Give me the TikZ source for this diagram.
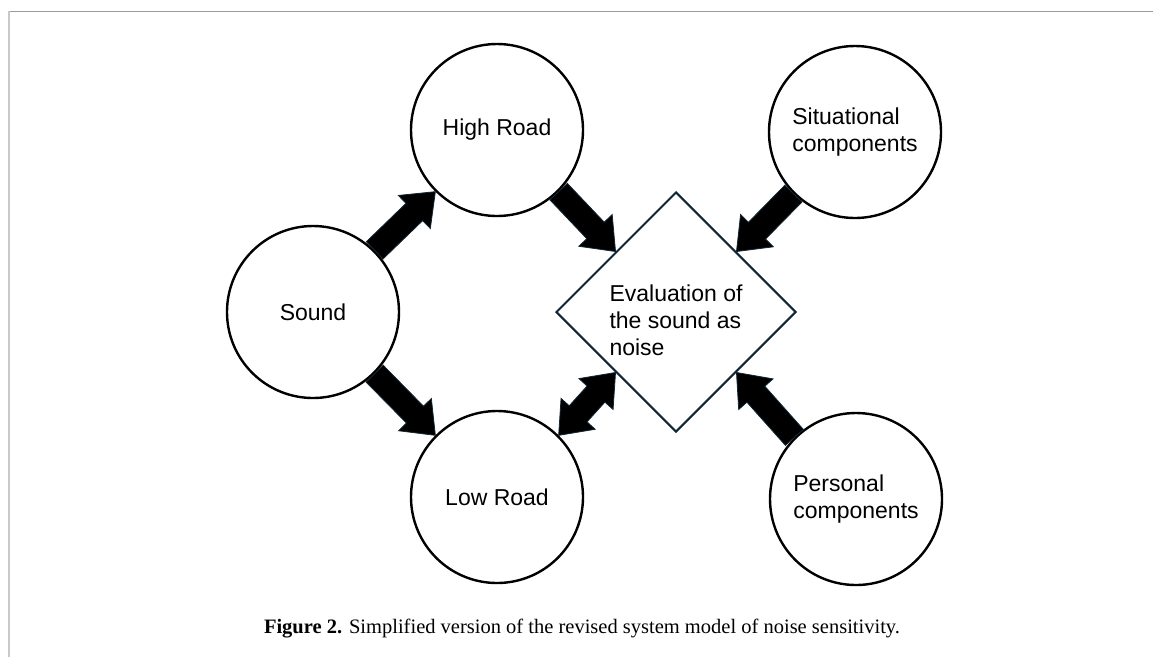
\documentclass[tikz,border=0pt]{standalone}
\usepackage{fontspec}
\setmainfont{Liberation Sans}
\newfontfamily\capfont{Liberation Serif}
\usetikzlibrary{shapes.geometric,calc}
\definecolor{navy}{RGB}{16,38,52}
\definecolor{frametop}{RGB}{155,155,155}
\definecolor{frameleft}{RGB}{200,200,200}
\tikzset{
  circ/.style={circle, draw=black, line width=2.4pt, minimum size=172pt, inner sep=0pt,
    align=left, font=\fontsize{23}{27}\selectfont},
  dia/.style={diamond, draw=navy, line width=2pt, minimum width=240pt, minimum height=240pt,
    inner sep=0pt, aspect=1},
  lbl/.style={align=left, font=\fontsize{23}{27}\selectfont, inner sep=0pt},
  blockarrow/.style={fill=black, draw=navy, line width=0.8pt, line join=miter, to path={
    let \p1=(\tikztostart), \p2=(\tikztotarget),
        \n1={atan2(\y2-\y1,\x2-\x1)}, \n2={veclen(\x2-\x1,\y2-\y1)} in
    ($(\p1)+(\n1+90:12pt)$)
    -- ($(\p1)+(\n1:{\n2-29pt})+(\n1+90:12pt)$)
    -- ($(\p1)+(\n1:{\n2-29pt})+(\n1+90:23pt)$)
    -- (\p2)
    -- ($(\p1)+(\n1:{\n2-29pt})+(\n1-90:23pt)$)
    -- ($(\p1)+(\n1:{\n2-29pt})+(\n1-90:12pt)$)
    -- ($(\p1)+(\n1-90:12pt)$) -- cycle}},
  dblockarrow/.style={fill=black, draw=navy, line width=0.8pt, line join=miter, to path={
    let \p1=(\tikztostart), \p2=(\tikztotarget),
        \n1={atan2(\y2-\y1,\x2-\x1)}, \n2={veclen(\x2-\x1,\y2-\y1)} in
    (\p1)
    -- ($(\p1)+(\n1:29pt)+(\n1+90:23pt)$)
    -- ($(\p1)+(\n1:29pt)+(\n1+90:12pt)$)
    -- ($(\p1)+(\n1:{\n2-29pt})+(\n1+90:12pt)$)
    -- ($(\p1)+(\n1:{\n2-29pt})+(\n1+90:23pt)$)
    -- (\p2)
    -- ($(\p1)+(\n1:{\n2-29pt})+(\n1-90:23pt)$)
    -- ($(\p1)+(\n1:{\n2-29pt})+(\n1-90:12pt)$)
    -- ($(\p1)+(\n1:29pt)+(\n1-90:12pt)$)
    -- ($(\p1)+(\n1:29pt)+(\n1-90:23pt)$) -- cycle}}
}
\begin{document}
\begin{tikzpicture}[x=1pt,y=1pt]
\useasboundingbox (0,0) rectangle (1153,-657);
\fill[white] (0,0) rectangle (1153,-657);
% frame
\draw[frametop, line width=1.2pt] (9,-11.5) -- (1153,-11.5);
\draw[frameleft, line width=1.8pt] (9,-11) -- (9,-657);
% nodes
\node[circ] (high) at (497,-130) {High Road};
\node[circ] (sound) at (313,-312) {Sound};
\node[circ] (low) at (497,-497) {Low Road};
\node[circ] (sit) at (855,-132) {Situational\\components};
\node[circ] (pers) at (856,-499) {Personal\\components};
\node[dia] (dia) at (676,-312) {};
\node[lbl] (evaltxt) at (676,-320) {Evaluation of\\the sound as\\noise};
% connectors
\draw[blockarrow] (sound.45) to (high.225);
\draw[blockarrow] (sound.-45) to (low.135);
\draw[blockarrow] (high.-45) to (dia.north west);
\draw[blockarrow] (sit.225) to (dia.north east);
\draw[blockarrow] (pers.135) to (dia.south east);
\draw[dblockarrow] (low.45) to (dia.south west);
% caption
\node[anchor=base, inner sep=0pt, font=\capfont\fontsize{20.5}{24}\selectfont] (cap) at (582,-633)
  {\textbf{Figure 2.} Simplified version of the revised system model of noise sensitivity.};
\end{tikzpicture}
\end{document}
